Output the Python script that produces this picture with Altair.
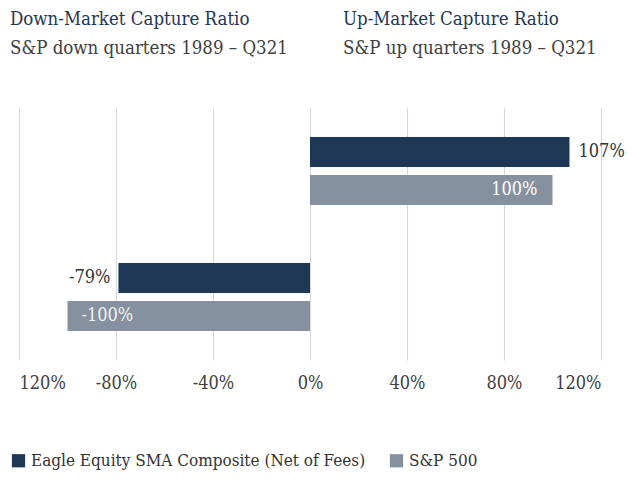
import altair as alt
import pandas as pd

categories = ["Up-Market", "Down-Market"]
series = ["Eagle Equity SMA Composite (Net of Fees)", "S&P 500"]
eagle_values = [1.07, -0.79]
sp500_values = [1.00, -1.00]
tick_values = [-1.2, -0.8, -0.4, 0.0, 0.4, 0.8, 1.2]
titles = ["Down-Market Capture Ratio", "Up-Market Capture Ratio"]
subtitles = ["S&P down quarters 1989 \u2013 Q321", "S&P up quarters 1989 \u2013 Q321"]

NAVY = "#1e3754"
GRAY = "#85919e"
FONT = "DejaVu Serif Condensed"

rows = []
for c, e, s in zip(categories, eagle_values, sp500_values):
    rows.append({"category": c, "series": series[0], "value": e})
    rows.append({"category": c, "series": series[1], "value": s})
df = pd.DataFrame(rows)

y_enc = alt.Y("category:N", sort=categories, axis=None,
              scale=alt.Scale(paddingInner=0.46, paddingOuter=0.23))
yoff = alt.YOffset("series:N", sort=series, scale=alt.Scale(paddingInner=0.21, paddingOuter=0))
x_scale = alt.Scale(domain=[-1.2, 1.2], nice=False, zero=False)

base = alt.Chart(df).transform_calculate(
    label="replace(format(datum.value, '.0%'), '\u2212', '-')"
)

bars = base.mark_bar().encode(
    x=alt.X("value:Q", scale=x_scale, title=None,
            axis=alt.Axis(values=tick_values, format=".0%",
                          labelExpr="datum.value <= -1.19 ? '120%' : replace(datum.label, '\u2212', '-')",
                          grid=True, gridColor="#d9d9d9", gridWidth=1.2, domain=False, ticks=False,
                          labelFont=FONT, labelFontSize=18, labelColor="#404040", labelPadding=14)),
    y=y_enc,
    yOffset=yoff,
    color=alt.Color("series:N", sort=series,
                    scale=alt.Scale(domain=series, range=[NAVY, GRAY]),
                    legend=alt.Legend(title=None, orient="none", legendX=-9, legendY=344, direction="horizontal",
                                      symbolType="square", symbolSize=175, symbolStrokeWidth=0,
                                      labelFont=FONT, labelFontSize=17, labelColor="#333333", labelLimit=0,
                                      columnPadding=22, labelOffset=4)),
)

def label_layer(cat, ser, align, dx, color):
    return base.transform_filter(
        (alt.datum.category == cat) & (alt.datum.series == ser)
    ).mark_text(align=align, baseline="middle", dx=dx, font=FONT, fontSize=18, color=color).encode(
        x=alt.X("value:Q", scale=x_scale),
        y=y_enc,
        yOffset=yoff,
        text=alt.Text("label:N"),
    )

labels = [
    label_layer(categories[0], series[0], "left", 9, "#333333"),
    label_layer(categories[0], series[1], "right", -15, "#ffffff"),
    label_layer(categories[1], series[0], "right", -8, "#333333"),
    label_layer(categories[1], series[1], "left", 14, "#f2f2f2"),
]

def fixed_text(txt, x, y, color):
    return alt.Chart(alt.Data(values=[{}])).mark_text(
        align="left", baseline="alphabetic", font=FONT, fontSize=18.5, color=color
    ).encode(x=alt.value(x), y=alt.value(y), text=alt.value(txt))

heads = [
    fixed_text(titles[0], -9, -83, NAVY),
    fixed_text(titles[1], 324, -83, NAVY),
    fixed_text(subtitles[0], -9, -54, "#404040"),
    fixed_text(subtitles[1], 324, -54, "#404040"),
]

chart = alt.layer(bars, *labels, *heads).properties(
    width=582, height=252,
    autosize=alt.AutoSizeParams(type="none"),
    padding={"left": 11, "top": 100, "right": 24, "bottom": 110},
).configure_view(stroke=None)

chart.save("out.html", embed_options={"renderer": "svg", "actions": False})
